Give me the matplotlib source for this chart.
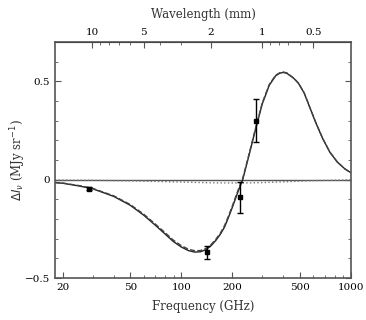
import matplotlib
matplotlib.use('Agg')
import matplotlib.pyplot as plt
from matplotlib.ticker import FixedLocator, NullFormatter, LogLocator, FixedFormatter

plt.rcParams['font.family'] = 'DejaVu Serif'

# ---- curve (GHz, MJy/sr) ----
freq = [18, 20, 25, 30, 40, 50, 60, 70, 80, 90, 100, 110, 120, 130, 140, 150,
        160, 170, 180, 190, 200, 215, 230, 250, 270, 300, 330, 360, 380, 400,
        420, 460, 490, 530, 570, 620, 680, 750, 830, 920, 1000]
dI_total = [-0.015, -0.018, -0.032, -0.046, -0.085, -0.13, -0.18, -0.23, -0.275,
            -0.315, -0.342, -0.36, -0.368, -0.366, -0.355, -0.335, -0.308, -0.277,
            -0.24, -0.19, -0.14, -0.065, 0.0, 0.12, 0.235, 0.385, 0.48, 0.528,
            0.541, 0.545, 0.54, 0.515, 0.49, 0.44, 0.37, 0.29, 0.21, 0.14, 0.09,
            0.055, 0.035]
dI_thermal = [-0.014, -0.017, -0.030, -0.044, -0.082, -0.126, -0.175, -0.224,
              -0.268, -0.308, -0.335, -0.353, -0.361, -0.360, -0.349, -0.329,
              -0.302, -0.271, -0.233, -0.183, -0.133, -0.058, 0.006, 0.126,
              0.240, 0.390, 0.484, 0.531, 0.543, 0.547, 0.542, 0.516, 0.491,
              0.441, 0.371, 0.291, 0.211, 0.141, 0.09, 0.055, 0.035]

# kinetic component (dotted, just below zero)
kin_freq = [18, 30, 50, 100, 150, 220, 300, 400, 600, 1000]
dI_kin = [-0.002, -0.003, -0.006, -0.012, -0.016, -0.017, -0.015, -0.011, -0.005, -0.001]

# measurements
obs_freq = [28.7, 142, 221, 275]
obs_dI = [-0.046, -0.37, -0.09, 0.30]
obs_err = [0.008, 0.035, 0.078, 0.11]

fig = plt.figure(figsize=(3.66, 3.2), dpi=100)
ax = fig.add_axes([0.150, 0.131, 0.809, 0.738])
fs = 7.5

ax.axhline(0, color='#555555', lw=1.0, zorder=1)
ax.plot(kin_freq, dI_kin, ':', color='#777777', lw=1.0)
ax.plot(freq, dI_total, '-', color='#222222', lw=1.0)
ax.plot(freq, dI_thermal, '--', color='#444444', lw=1.0)
ax.errorbar(obs_freq, obs_dI, yerr=obs_err, fmt='s', ms=2.5, color='black',
            ecolor='black', elinewidth=1.0, capsize=2.5, capthick=1.0)

ax.set_xscale('log')
ax.set_xlim(18, 1000)
ax.set_ylim(-0.5, 0.7)
ax.xaxis.set_major_locator(FixedLocator([20, 50, 100, 200, 500, 1000]))
ax.xaxis.set_major_formatter(FixedFormatter(['20', '50', '100', '200', '500', '1000']))
ax.xaxis.set_minor_locator(LogLocator(base=10, subs=range(2, 10)))
ax.xaxis.set_minor_formatter(NullFormatter())
ax.yaxis.set_major_locator(FixedLocator([-0.5, 0, 0.5]))
ax.yaxis.set_major_formatter(FixedFormatter(['\u22120.5', '0', '0.5']))
ax.yaxis.set_minor_locator(FixedLocator([-0.4, -0.3, -0.2, -0.1, 0.1, 0.2, 0.3, 0.4, 0.6]))
ax.tick_params(which='both', direction='in', right=True, labelsize=fs, color='#555555')
ax.tick_params(which='major', length=4)
ax.tick_params(which='minor', length=2)
ax.tick_params(axis='x', which='both', top=False)
for s in ax.spines.values():
    s.set_color('#555555')
    s.set_linewidth(1.2)

sec = ax.secondary_xaxis('top', functions=(lambda v: 299.79 / v, lambda v: 299.79 / v))
sec.xaxis.set_major_locator(FixedLocator([10, 5, 2, 1, 0.5]))
sec.xaxis.set_major_formatter(FixedFormatter(['10', '5', '2', '1', '0.5']))
sec.xaxis.set_minor_locator(FixedLocator([0.6, 0.7, 0.8, 0.9, 3, 4, 6, 7, 8, 9]))
sec.xaxis.set_minor_formatter(NullFormatter())
sec.tick_params(which='both', direction='in', labelsize=fs, color='#555555')
sec.tick_params(which='major', length=4)
sec.tick_params(which='minor', length=2)
sec.set_xlabel('Wavelength (mm)', fontsize=8.5, color='#333333', labelpad=7)

ax.set_xlabel('Frequency (GHz)', fontsize=8.5, color='#333333', labelpad=6)
ax.set_ylabel(r'$\Delta I_\nu$ (MJy sr$^{-1}$)', fontsize=8.5, color='#333333', labelpad=-2)

fig.savefig('out.png', dpi=100)
